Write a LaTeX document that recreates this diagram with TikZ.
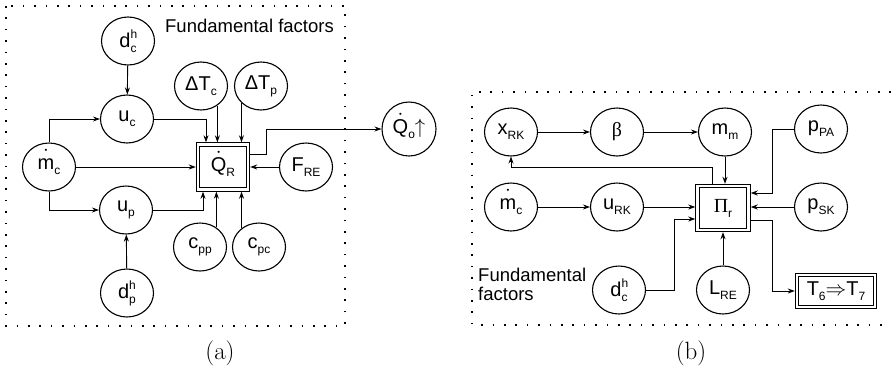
\documentclass[tikz,border=0pt]{standalone}
\usepackage{fontspec}
\usepackage{graphicx}
\newfontfamily\lblfont{Liberation Sans}
\newfontfamily\grkfont{Liberation Serif}
\usetikzlibrary{shapes.geometric,arrows.meta,calc}

% label helpers: subscript, sub+superscript, dot over a letter
\newcommand\lsub[2]{#1\raisebox{-5pt}{\fontsize{12}{12}\selectfont #2}}
\newcommand\lsubsup[3]{#1\rlap{\raisebox{9pt}{\fontsize{12}{12}\selectfont #3}}\raisebox{-5pt}{\fontsize{12}{12}\selectfont #2}}
\newcommand\ldot[1]{\ooalign{#1\cr\hidewidth\raisebox{14pt}{$\cdot$}\hidewidth\cr}}

\tikzset{
  el/.style={ellipse, draw, line width=1.1pt, minimum width=53pt, minimum height=48pt,
    inner sep=0pt, font=\lblfont\fontsize{20}{20}\selectfont},
  circ/.style={circle, draw, line width=1.1pt, minimum size=54pt, inner sep=0pt,
    font=\lblfont\fontsize{20}{20}\selectfont},
  dbox/.style={rectangle, draw, double, double distance=2.5pt, line width=0.9pt,
    minimum width=50pt, minimum height=45pt, inner sep=0pt, outer sep=2.2pt,
    font=\lblfont\fontsize{20}{20}\selectfont},
  arr/.style={-{Stealth[length=7pt,width=5pt]}, line width=0.9pt},
  dots/.style={line width=1.6pt, dash pattern=on 1.6pt off 9.8pt},
  ff/.style={font=\lblfont\fontsize{18.5}{19}\selectfont, inner sep=0pt},
  captext/.style={font=\fontsize{25}{25}\selectfont, inner sep=0pt}
}

\begin{document}
\begin{tikzpicture}[x=1pt,y=-1pt]
\useasboundingbox (0,0) rectangle (891,368);

% ---------- panel (a) ----------
\draw[dots] (6,6) rectangle (345,326);
\node[ff, anchor=base east] (ffa) at (334,32) {Fundamental factors};

\node[el] (dch) at (128,41) {\lsubsup{d}{c}{h}};
\node[el] (uc) at (127,119) {\lsub{u}{c}};
\node[el] (dTc) at (201,86) {\lsub{ΔT}{c}};
\node[el] (dTp) at (261,86) {\lsub{ΔT}{p}};
\node[el] (mc) at (49,167) {\lsub{\ldot{m}}{c}};
\node[dbox] (QR) at (223,167) {\lsub{\ldot{Q}}{R}};
\node[el] (FRE) at (306,167) {\lsub{F}{RE}};
\node[circ] (Qo) at (409,129) {\lsub{\ldot{Q}}{o}$\uparrow$};
\node[el] (up) at (126,210) {\lsub{u}{p}};
\node[el] (cpp) at (200,247) {\lsub{c}{pp}};
\node[el] (cpc) at (259,247) {\lsub{c}{pc}};
\node[el] (dph) at (127,293) {\lsubsup{d}{p}{h}};

\draw[arr] (dch) -- (uc);
\draw[arr] (mc.north) |- (uc);
\draw[arr] (mc.south) |- (up);
\draw[arr] (mc) -- (QR);
\draw[arr] (uc.east) -| ([xshift=-17pt]QR.north);
\draw[arr] (dTc.-50) -- (dTc.-50 |- QR.north);
\draw[arr] (dTp.-139) -- (dTp.-139 |- QR.north);
\draw[arr] (up.east) -| ([xshift=-20pt]QR.south);
\draw[arr] (cpp.50) -- (cpp.50 |- QR.south);
\draw[arr] (cpc.133) -- (cpc.133 |- QR.south);
\draw[arr] (FRE) -- (QR);
\draw[arr] (dph) -- (up);
\draw[arr] ([yshift=13pt]QR.east) -- ++(16,0) |- (Qo);

% ---------- panel (b) ----------
\draw[dots] (891,92) -- (472,92) -- (472,325) -- (891,325);
\node[ff, anchor=base west, align=left] (ffb) at (478,300) {Fundamental\\factors};

\node[el] (xRK) at (511,132) {\lsub{x}{RK}};
\node[el] (beta) at (617,132) {{\grkfont β}};
\node[el] (mm) at (725,132) {\lsub{m}{m}};
\node[el] (pPA) at (821,129) {\lsub{p}{PA}};
\node[el] (mc2) at (511,207) {\lsub{\ldot{m}}{c}};
\node[el] (uRK) at (617,207) {\lsub{u}{RK}};
\node[dbox, minimum width=51pt, minimum height=44pt] (Pi) at (723,208) {{\grkfont Π}\lsub{}{r}};
\node[el] (pSK) at (821,207) {\lsub{p}{SK}};
\node[el] (dch2) at (619,290) {\lsubsup{d}{c}{h}};
\node[el] (LRE) at (723,290) {\lsub{L}{RE}};
\node[dbox, minimum width=78pt, minimum height=32pt] (T) at (836,291) {\lsub{T}{6}$\Rightarrow$\lsub{T}{7}};

\draw[arr] (xRK) -- (beta);
\draw[arr] (beta) -- (mm);
\draw[arr] (mm) -- (mm |- Pi.north);
\draw[arr] ([xshift=-11pt]Pi.north) -- ++(0,-16) -| (xRK.south);
\draw[arr] (pPA.west) -| ([xshift=22pt,yshift=15pt]Pi.east) -- ([yshift=15pt]Pi.east);
\draw[arr] (pSK) -- (pSK -| Pi.east);
\draw[arr] (mc2) -- (uRK);
\draw[arr] (uRK.east) -- (uRK.east -| Pi.west);
\draw[arr] (dch2.east) -| ([xshift=-21pt,yshift=-11pt]Pi.west) -- ([yshift=-11pt]Pi.west);
\draw[arr] (LRE) -- (LRE |- Pi.south);
\draw[arr] ([yshift=-12pt]Pi.east) -- ++(22,0) |- (T);

% captions
\node[captext] (capa) at (220,353) {(a)};
\node[captext] (capb) at (691,353) {(b)};
\end{tikzpicture}
\end{document}
